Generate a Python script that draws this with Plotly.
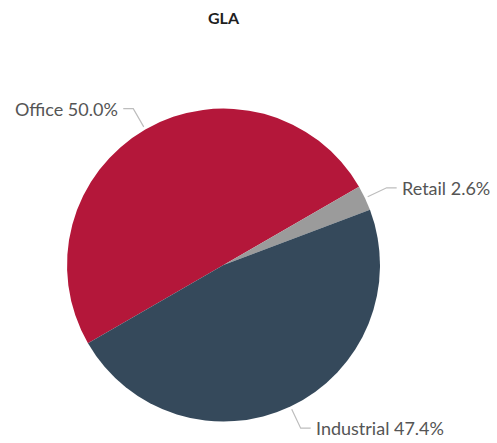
import math
import plotly.graph_objects as go

# Gross leasable area split by property type
categories = ["Office", "Retail", "Industrial"]
shares = [50.0, 2.6, 47.4]
colors = ["#B4173A", "#9B9B9B", "#35495B"]

W, H = 497, 443
# pie bounding box in pixels (left, right, top, bottom)
PIE_L, PIE_R, PIE_T, PIE_B = 67, 380, 108, 422
START_DEG = 210  # first slice begins here (math angle), slices run clockwise

cx = (PIE_L + PIE_R) / 2
cy = (PIE_T + PIE_B) / 2
radius = min(PIE_R - PIE_L, PIE_B - PIE_T) / 2


def px(x):
    return x / W


def py(y):
    return 1 - y / H


fig = go.Figure(
    go.Pie(
        labels=categories,
        values=shares,
        sort=False,
        direction="clockwise",
        rotation=90 - START_DEG,
        marker=dict(colors=colors, line=dict(width=0)),
        textinfo="none",
        hoverinfo="label+percent",
        showlegend=False,
        domain=dict(x=[px(PIE_L), px(PIE_R)], y=[py(PIE_B), py(PIE_T)]),
    )
)

# leader lines and outside labels placed at each slice's mid-angle
total = sum(shares)
angle = START_DEG
shapes, annotations = [], []
for name, v in zip(categories, shares):
    span = 360 * v / total
    mid = math.radians(angle - span / 2)
    angle -= span
    dx, dy = math.cos(mid), -math.sin(mid)
    x0, y0 = cx + (radius + 3) * dx, cy + (radius + 3) * dy
    x1, y1 = cx + (radius + 24) * dx, cy + (radius + 24) * dy
    side = 1 if dx >= 0 else -1
    x2 = x1 + side * 10
    path = f"M {px(x0)},{py(y0)} L {px(x1)},{py(y1)} L {px(x2)},{py(y1)}"
    shapes.append(dict(type="path", path=path, xref="paper", yref="paper",
                       line=dict(color="#BDBDBD", width=1.2)))
    annotations.append(dict(
        x=px(x2 + side * 3), y=py(y1), xref="paper", yref="paper",
        text=f"{name} {v:.1f}%", showarrow=False,
        xanchor="left" if side > 0 else "right", yanchor="middle",
        font=dict(family="Lato", size=18, color="#555555"),
    ))

fig.update_layout(
    width=W, height=H, autosize=False,
    margin=dict(l=0, r=0, t=0, b=0),
    paper_bgcolor="white", plot_bgcolor="white",
    title=dict(text="<b>GLA</b>", x=px(cx), xanchor="center",
               y=py(18), yanchor="middle",
               font=dict(family="Lato", size=16, color="#1F1F1F")),
    shapes=shapes,
    annotations=annotations,
)

fig.write_html("out.html")
